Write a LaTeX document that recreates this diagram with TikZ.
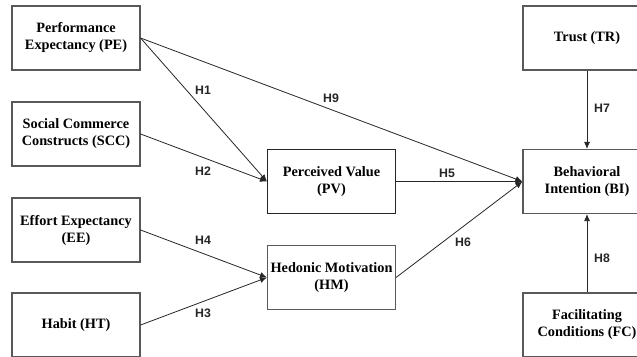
\documentclass[tikz,border=0pt]{standalone}
\usepackage{fontspec}
\setmainfont{Liberation Serif}
\newfontfamily\lblfont{Liberation Sans}
\usetikzlibrary{arrows.meta}
\begin{document}
\begin{tikzpicture}[x=1pt,y=-1pt,
  box/.style={draw=black!65,line width=1.1pt,minimum width=128pt,minimum height=64pt,
    align=center,inner sep=0pt,font=\fontsize{14.3}{17}\selectfont\bfseries},
  conn/.style={draw=black!85,line width=0.8pt,-{Latex[length=7pt,width=6pt]}},
  hl/.style={font=\lblfont\fontsize{12.3}{14}\selectfont\bfseries,text=black!85}]
\useasboundingbox (0,0) rectangle (637,356);
\clip (0,0) rectangle (637,356);
\node[box] (PE) at (76,38) {Performance\\Expectancy (PE)};
\node[box] (SCC) at (76,134) {Social Commerce\\Constructs (SCC)};
\node[box] (EE) at (76,230) {Effort Expectancy\\(EE)};
\node[box] (HT) at (76,325) {Habit (HT)};
\node[box,draw=black!85] (PV) at (331.5,181.5) {Perceived Value\\(PV)};
\node[box] (HM) at (331.5,277.5) {Hedonic Motivation\\(HM)};
\node[box] (TR) at (587,38) {Trust (TR)};
\node[box] (BI) at (587,181.5) {Behavioral\\Intention (BI)};
\node[box] (FC) at (587,325) {Facilitating\\Conditions (FC)};
\draw[conn] (PE.east) -- (PV.west);
\draw[conn] (SCC.east) -- (PV.west);
\draw[conn] (PE.east) -- (BI.west);
\draw[conn] (PV.east) -- (BI.west);
\draw[conn] (HM.east) -- (BI.west);
\draw[conn] (EE.east) -- (HM.west);
\draw[conn] (HT.east) -- (HM.west);
\draw[conn] (TR.south) -- (BI.north);
\draw[conn] (FC.north) -- (BI.south);
\node[hl] (h1) at (203,90) {H1};
\node[hl] (h2) at (203,171) {H2};
\node[hl] (h9) at (331,98) {H9};
\node[hl] (h5) at (447,173) {H5};
\node[hl] (h7) at (602,108) {H7};
\node[hl] (h6) at (463,242) {H6};
\node[hl] (h8) at (602,258) {H8};
\node[hl] (h4) at (203,240) {H4};
\node[hl] (h3) at (203,313) {H3};
\end{tikzpicture}
\end{document}
